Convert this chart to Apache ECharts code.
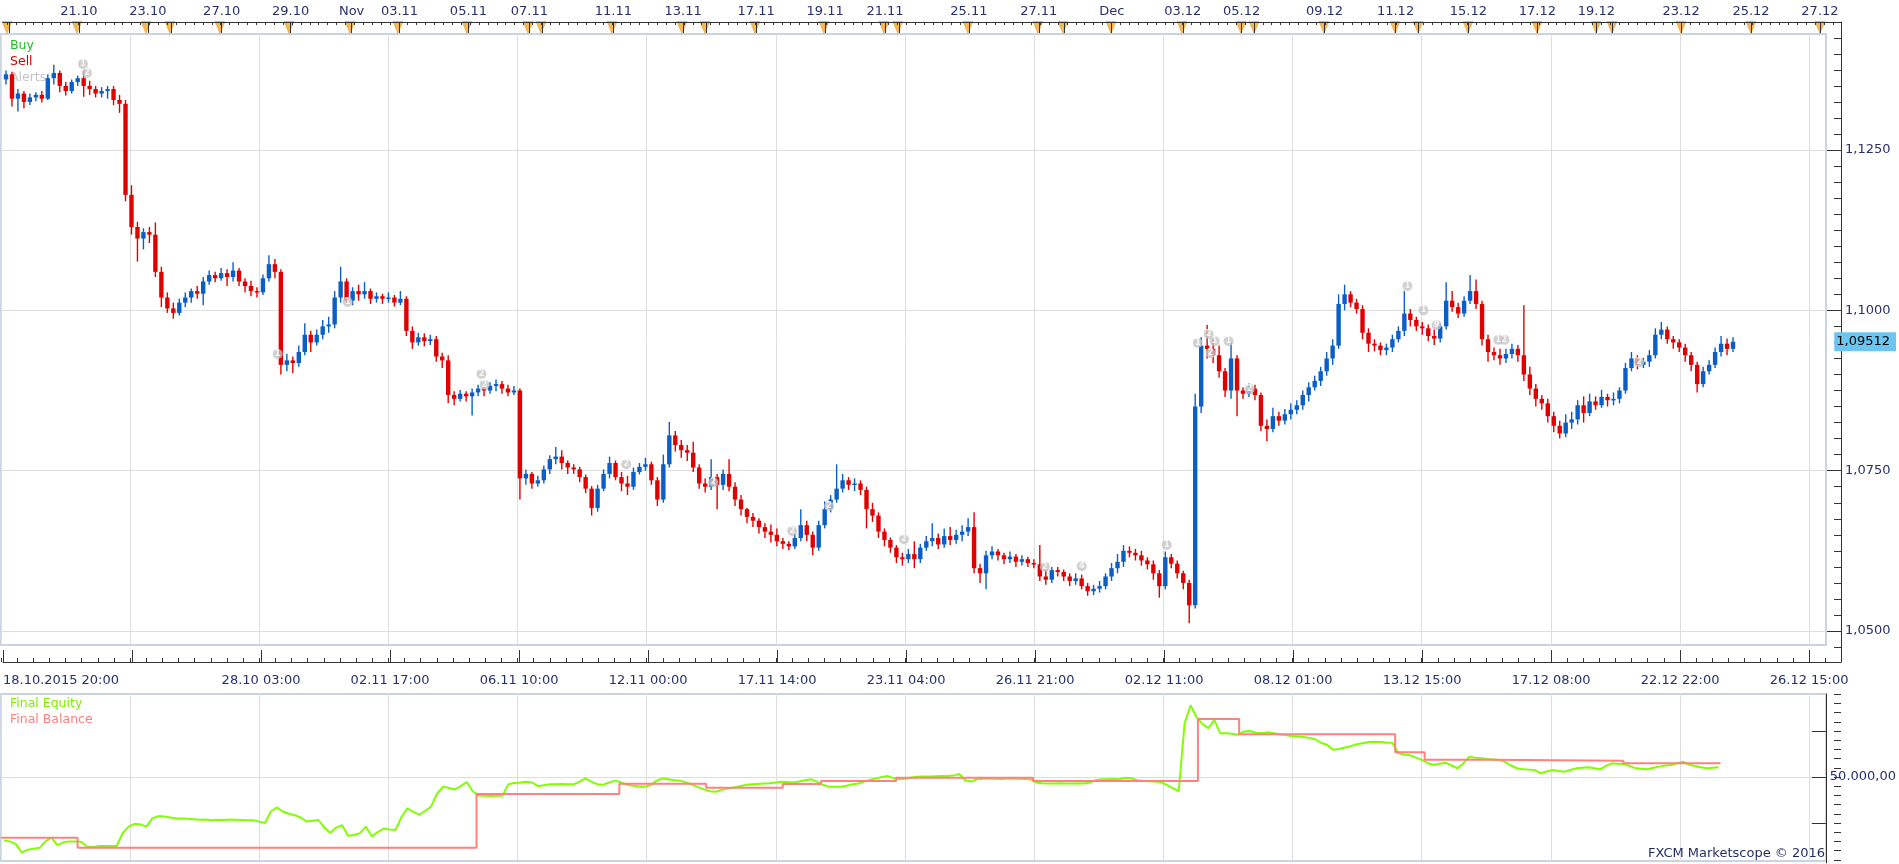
<!DOCTYPE html>
<html>
<head>
<meta charset="utf-8">
<title>Marketscope - EUR/USD backtest</title>
<script src="https://cdn.jsdelivr.net/npm/echarts@6/dist/echarts.min.js"></script>
<style>
  html, body { margin: 0; padding: 0; background: #fff; }
  #chart { width: 1899px; height: 864px; }
</style>
</head>
<body>
<div id="chart"></div>
<script>
// one candle = ~4 trading hours, x axis counts trading hours from 18.10.2015 20:00
const BAR_HOURS = 4.03

// [open, close, low, high]
const candles = [
  [1.1360,1.1368,1.1352,1.1374],[1.1368,1.1330,1.1318,1.1372],[1.1330,1.1338,1.1310,1.1345],[1.1338,1.1325,1.1315,1.1342],[1.1325,1.1332,1.1320,1.1338],
  [1.1332,1.1336,1.1326,1.1340],[1.1336,1.1330,1.1324,1.1342],[1.1330,1.1362,1.1328,1.1368],[1.1362,1.1370,1.1352,1.1383],[1.1370,1.1350,1.1340,1.1374],
  [1.1350,1.1342,1.1335,1.1356],[1.1342,1.1356,1.1338,1.1360],[1.1356,1.1362,1.1350,1.1366],[1.1362,1.1350,1.1333,1.1374],[1.1350,1.1345,1.1336,1.1358],
  [1.1345,1.1338,1.1332,1.1350],[1.1338,1.1342,1.1332,1.1348],[1.1342,1.1345,1.1330,1.1350],[1.1345,1.1328,1.1320,1.1350],[1.1328,1.1322,1.1308,1.1336],
  [1.1322,1.1180,1.1170,1.1328],[1.1180,1.1130,1.1118,1.1195],[1.1130,1.1112,1.1076,1.1138],[1.1112,1.1122,1.1095,1.1128],[1.1122,1.1118,1.1105,1.1130],
  [1.1118,1.1060,1.1052,1.1137],[1.1060,1.1020,1.1005,1.1068],[1.1020,1.1003,1.0996,1.1028],[1.1003,1.0996,1.0987,1.1012],[1.0996,1.1012,1.0992,1.1018],
  [1.1012,1.1020,1.1005,1.1028],[1.1020,1.1030,1.1012,1.1034],[1.1030,1.1026,1.1018,1.1038],[1.1026,1.1045,1.1008,1.1052],[1.1045,1.1055,1.1040,1.1062],
  [1.1055,1.1050,1.1044,1.1060],[1.1050,1.1058,1.1046,1.1066],[1.1058,1.1052,1.1038,1.1064],[1.1052,1.1062,1.1045,1.1075],[1.1062,1.1045,1.1038,1.1066],
  [1.1045,1.1038,1.1028,1.1050],[1.1038,1.1030,1.1022,1.1046],[1.1030,1.1028,1.1020,1.1036],[1.1028,1.1050,1.1024,1.1056],[1.1050,1.1072,1.1045,1.1086],
  [1.1072,1.1060,1.1050,1.1080],[1.1060,1.0915,1.0900,1.1064],[1.0915,1.0922,1.0905,1.0932],[1.0922,1.0918,1.0902,1.0928],[1.0918,1.0935,1.0912,1.0945],
  [1.0935,1.0962,1.0930,1.0980],[1.0962,1.0950,1.0935,1.0968],[1.0950,1.0962,1.0945,1.0970],[1.0962,1.0975,1.0955,1.0985],[1.0975,1.0978,1.0965,1.0990],
  [1.0978,1.1020,1.0972,1.1030],[1.1020,1.1045,1.1012,1.1068],[1.1045,1.1015,1.1010,1.1050],[1.1015,1.1030,1.1008,1.1036],[1.1030,1.1025,1.1015,1.1040],
  [1.1025,1.1030,1.1018,1.1044],[1.1030,1.1018,1.1010,1.1034],[1.1018,1.1022,1.1012,1.1028],[1.1022,1.1018,1.1010,1.1026],[1.1018,1.1020,1.1012,1.1028],
  [1.1020,1.1012,1.1006,1.1024],[1.1012,1.1018,1.1008,1.1030],[1.1018,1.0968,1.0960,1.1022],[1.0968,1.0950,1.0940,1.0975],[1.0950,1.0958,1.0945,1.0965],
  [1.0958,1.0952,1.0944,1.0964],[1.0952,1.0955,1.0946,1.0962],[1.0955,1.0928,1.0920,1.0960],[1.0928,1.0922,1.0910,1.0934],[1.0922,1.0868,1.0855,1.0930],
  [1.0868,1.0862,1.0852,1.0874],[1.0862,1.0870,1.0858,1.0876],[1.0870,1.0866,1.0858,1.0874],[1.0866,1.0872,1.0836,1.0878],[1.0872,1.0878,1.0866,1.0884],
  [1.0878,1.0875,1.0866,1.0884],[1.0875,1.0882,1.0870,1.0888],[1.0882,1.0885,1.0874,1.0892],[1.0885,1.0878,1.0870,1.0890],[1.0878,1.0872,1.0866,1.0884],
  [1.0872,1.0875,1.0868,1.0882],[1.0875,1.0738,1.0705,1.0878],[1.0738,1.0745,1.0728,1.0752],[1.0745,1.0730,1.0722,1.0748],[1.0730,1.0735,1.0725,1.0742],
  [1.0735,1.0752,1.0730,1.0758],[1.0752,1.0768,1.0745,1.0774],[1.0768,1.0772,1.0760,1.0787],[1.0772,1.0762,1.0752,1.0782],[1.0762,1.0755,1.0745,1.0766],
  [1.0755,1.0752,1.0745,1.0760],[1.0752,1.0740,1.0732,1.0756],[1.0740,1.0722,1.0715,1.0744],[1.0722,1.0692,1.0680,1.0726],[1.0692,1.0722,1.0686,1.0728],
  [1.0722,1.0745,1.0718,1.0752],[1.0745,1.0762,1.0738,1.0772],[1.0762,1.0740,1.0735,1.0766],[1.0740,1.0730,1.0718,1.0748],[1.0730,1.0725,1.0712,1.0742],
  [1.0725,1.0748,1.0720,1.0755],[1.0748,1.0756,1.0744,1.0762],[1.0756,1.0760,1.0750,1.0770],[1.0760,1.0735,1.0728,1.0764],[1.0735,1.0705,1.0695,1.0740],
  [1.0705,1.0760,1.0700,1.0775],[1.0760,1.0805,1.0755,1.0826],[1.0805,1.0790,1.0780,1.0812],[1.0790,1.0782,1.0770,1.0798],[1.0782,1.0778,1.0765,1.0790],
  [1.0778,1.0755,1.0748,1.0795],[1.0755,1.0730,1.0722,1.0760],[1.0730,1.0725,1.0716,1.0738],[1.0725,1.0740,1.0720,1.0768],[1.0740,1.0728,1.0690,1.0745],
  [1.0728,1.0745,1.0720,1.0752],[1.0745,1.0725,1.0718,1.0768],[1.0725,1.0705,1.0695,1.0732],[1.0705,1.0690,1.0680,1.0712],[1.0690,1.0678,1.0668,1.0692],
  [1.0678,1.0672,1.0662,1.0684],[1.0672,1.0662,1.0652,1.0676],[1.0662,1.0655,1.0645,1.0668],[1.0655,1.0650,1.0638,1.0666],[1.0650,1.0640,1.0632,1.0660],
  [1.0640,1.0636,1.0628,1.0645],[1.0636,1.0632,1.0626,1.0640],[1.0632,1.0645,1.0628,1.0652],[1.0645,1.0665,1.0640,1.0690],[1.0665,1.0650,1.0640,1.0672],
  [1.0650,1.0630,1.0618,1.0655],[1.0630,1.0665,1.0625,1.0672],[1.0665,1.0690,1.0660,1.0702],[1.0690,1.0705,1.0685,1.0712],[1.0705,1.0722,1.0700,1.0760],
  [1.0722,1.0735,1.0716,1.0745],[1.0735,1.0728,1.0720,1.0740],[1.0728,1.0730,1.0718,1.0738],[1.0730,1.0720,1.0712,1.0735],[1.0720,1.0690,1.0660,1.0725],
  [1.0690,1.0680,1.0670,1.0700],[1.0680,1.0655,1.0645,1.0685],[1.0655,1.0642,1.0632,1.0660],[1.0642,1.0630,1.0622,1.0646],[1.0630,1.0615,1.0606,1.0634],
  [1.0615,1.0612,1.0602,1.0622],[1.0612,1.0620,1.0606,1.0628],[1.0620,1.0612,1.0598,1.0640],[1.0612,1.0630,1.0606,1.0636],[1.0630,1.0640,1.0625,1.0648],
  [1.0640,1.0645,1.0632,1.0668],[1.0645,1.0635,1.0628,1.0652],[1.0635,1.0648,1.0630,1.0660],[1.0648,1.0642,1.0634,1.0662],[1.0642,1.0650,1.0636,1.0658],
  [1.0650,1.0655,1.0640,1.0665],[1.0655,1.0662,1.0648,1.0676],[1.0662,1.0598,1.0590,1.0685],[1.0598,1.0590,1.0575,1.0605],[1.0590,1.0618,1.0565,1.0625],
  [1.0618,1.0624,1.0612,1.0632],[1.0624,1.0618,1.0610,1.0628],[1.0618,1.0612,1.0604,1.0622],[1.0612,1.0616,1.0606,1.0624],[1.0616,1.0608,1.0600,1.0620],
  [1.0608,1.0612,1.0602,1.0618],[1.0612,1.0606,1.0600,1.0616],[1.0606,1.0604,1.0598,1.0612],[1.0604,1.0585,1.0578,1.0634],[1.0585,1.0580,1.0572,1.0596],
  [1.0580,1.0595,1.0575,1.0600],[1.0595,1.0592,1.0585,1.0600],[1.0592,1.0585,1.0578,1.0596],[1.0585,1.0578,1.0570,1.0590],[1.0578,1.0582,1.0572,1.0590],
  [1.0582,1.0570,1.0565,1.0588],[1.0570,1.0562,1.0555,1.0575],[1.0562,1.0566,1.0556,1.0572],[1.0566,1.0570,1.0560,1.0578],[1.0570,1.0585,1.0565,1.0590],
  [1.0585,1.0598,1.0578,1.0606],[1.0598,1.0608,1.0590,1.0620],[1.0608,1.0625,1.0600,1.0634],[1.0625,1.0622,1.0615,1.0632],[1.0622,1.0618,1.0610,1.0628],
  [1.0618,1.0610,1.0602,1.0625],[1.0610,1.0604,1.0596,1.0615],[1.0604,1.0590,1.0580,1.0610],[1.0590,1.0570,1.0552,1.0595],[1.0570,1.0615,1.0565,1.0624],
  [1.0615,1.0605,1.0598,1.0620],[1.0605,1.0590,1.0582,1.0610],[1.0590,1.0575,1.0565,1.0594],[1.0575,1.0540,1.0512,1.0580],[1.0540,1.0850,1.0535,1.0870],
  [1.0850,1.0945,1.0840,1.0958],[1.0945,1.0940,1.0925,1.0977],[1.0940,1.0930,1.0918,1.0955],[1.0930,1.0905,1.0895,1.0945],[1.0905,1.0875,1.0865,1.0910],
  [1.0875,1.0925,1.0862,1.0950],[1.0925,1.0875,1.0835,1.0930],[1.0875,1.0870,1.0862,1.0880],[1.0870,1.0878,1.0865,1.0886],[1.0878,1.0868,1.0860,1.0884],
  [1.0868,1.0820,1.0812,1.0872],[1.0820,1.0815,1.0796,1.0830],[1.0815,1.0835,1.0810,1.0848],[1.0835,1.0828,1.0820,1.0842],[1.0828,1.0838,1.0822,1.0846],
  [1.0838,1.0845,1.0830,1.0855],[1.0845,1.0852,1.0838,1.0860],[1.0852,1.0868,1.0845,1.0875],[1.0868,1.0880,1.0858,1.0888],[1.0880,1.0890,1.0875,1.0898],
  [1.0890,1.0905,1.0882,1.0912],[1.0905,1.0925,1.0898,1.0935],[1.0925,1.0945,1.0915,1.0955],[1.0945,1.1010,1.0940,1.1025],[1.1010,1.1025,1.1000,1.1040],
  [1.1025,1.1012,1.1005,1.1030],[1.1012,1.1002,1.0995,1.1018],[1.1002,1.0965,1.0955,1.1008],[1.0965,1.0948,1.0935,1.0972],[1.0948,1.0945,1.0936,1.0955],
  [1.0945,1.0938,1.0930,1.0950],[1.0938,1.0942,1.0930,1.0948],[1.0942,1.0955,1.0935,1.0962],[1.0955,1.0968,1.0950,1.0975],[1.0968,1.0995,1.0960,1.1030],
  [1.0995,1.0985,1.0975,1.1002],[1.0985,1.0975,1.0968,1.0990],[1.0975,1.0972,1.0962,1.0982],[1.0972,1.0960,1.0952,1.0978],[1.0960,1.0956,1.0946,1.0970],
  [1.0956,1.0975,1.0950,1.0980],[1.0975,1.1015,1.0970,1.1044],[1.1015,1.1005,1.0998,1.1030],[1.1005,1.0995,1.0988,1.1012],[1.0995,1.1015,1.0990,1.1022],
  [1.1015,1.1030,1.1010,1.1055],[1.1030,1.1010,1.1002,1.1048],[1.1010,1.0955,1.0945,1.1015],[1.0955,1.0935,1.0920,1.0962],[1.0935,1.0930,1.0922,1.0942],
  [1.0930,1.0925,1.0915,1.0940],[1.0925,1.0932,1.0918,1.0940],[1.0932,1.0940,1.0925,1.0948],[1.0940,1.0930,1.0920,1.0946],[1.0930,1.0900,1.0890,1.1008],
  [1.0900,1.0878,1.0868,1.0912],[1.0878,1.0862,1.0850,1.0885],[1.0862,1.0855,1.0845,1.0868],[1.0855,1.0835,1.0825,1.0862],[1.0835,1.0820,1.0810,1.0842],
  [1.0820,1.0808,1.0800,1.0828],[1.0808,1.0825,1.0802,1.0838],[1.0825,1.0830,1.0815,1.0842],[1.0830,1.0852,1.0822,1.0860],[1.0852,1.0840,1.0825,1.0866],
  [1.0840,1.0858,1.0835,1.0870],[1.0858,1.0852,1.0845,1.0866],[1.0852,1.0865,1.0848,1.0876],[1.0865,1.0860,1.0850,1.0870],[1.0860,1.0862,1.0852,1.0872],
  [1.0862,1.0875,1.0855,1.0880],[1.0875,1.0910,1.0870,1.0918],[1.0910,1.0925,1.0905,1.0935],[1.0925,1.0915,1.0908,1.0930],[1.0915,1.0920,1.0910,1.0926],
  [1.0920,1.0930,1.0912,1.0938],[1.0930,1.0962,1.0925,1.0972],[1.0962,1.0970,1.0955,1.0982],[1.0970,1.0955,1.0948,1.0975],[1.0955,1.0950,1.0940,1.0960],
  [1.0950,1.0942,1.0935,1.0955],[1.0942,1.0930,1.0920,1.0948],[1.0930,1.0915,1.0905,1.0935],[1.0915,1.0885,1.0872,1.0920],[1.0885,1.0905,1.0880,1.0912],
  [1.0905,1.0915,1.0900,1.0922],[1.0915,1.0935,1.0910,1.0942],[1.0935,1.0948,1.0928,1.0960],[1.0948,1.0940,1.0930,1.0956],[1.0940,1.0951,1.0935,1.0958]
]
const lastPrice = 1.09512

// final equity, one value per candle
const equity = [
  48620,48600,48540,48360,48420,48440,48460,48600,48680,48520,
  48580,48600,48600,48590,48490,48480,48500,48500,48500,48500,
  48780,48920,48980,48970,48920,49100,49150,49140,49120,49100,
  49100,49090,49080,49070,49075,49060,49070,49065,49075,49070,
  49065,49060,49060,49030,49000,49250,49340,49250,49200,49170,
  49120,49030,49050,49065,48900,48780,48900,48950,48720,48740,
  48780,48920,48710,48800,48880,48860,48850,49130,49320,49240,
  49180,49260,49360,49640,49790,49760,49730,49800,49890,49690,
  49600,49590,49585,49590,49590,49840,49870,49880,49895,49880,
  49800,49820,49840,49840,49845,49840,49840,49900,49970,49900,
  49840,49830,49880,49920,49880,49830,49810,49800,49790,49820,
  49920,49970,49950,49930,49920,49880,49830,49780,49730,49690,
  49680,49720,49750,49770,49800,49825,49840,49850,49860,49865,
  49880,49898,49890,49880,49900,49930,49950,49900,49830,49790,
  49790,49790,49810,49840,49860,49900,49940,49970,50000,50020,
  49970,49950,49960,49990,50005,50010,50010,50015,50020,50020,
  50030,50065,49930,49900,49950,49960,49965,49960,49955,49960,
  49960,49960,49955,49950,49880,49865,49860,49860,49865,49860,
  49860,49862,49860,49880,49930,49950,49950,49955,49950,49985,
  49970,49930,49915,49905,49900,49890,49830,49760,49690,51170,
  51560,51300,51150,51060,51240,50950,50950,50940,50916,50990,
  51000,50960,50950,50970,50950,50930,50910,50890,50880,50870,
  50850,50820,50740,50700,50590,50610,50640,50670,50710,50735,
  50760,50768,50760,50750,50746,50520,50490,50470,50420,50370,
  50300,50261,50290,50311,50250,50190,50300,50440,50420,50406,
  50390,50380,50370,50330,50250,50190,50170,50160,50150,50080,
  50120,50152,50130,50116,50150,50188,50200,50210,50190,50167,
  50240,50297,50290,50283,50240,50188,50180,50167,50200,50225,
  50250,50261,50300,50333,50270,50239,50210,50188,50200,50210
]

// final balance changes (trading hour, value)
const balanceHours = [0, 52, 323, 420, 479, 531, 557, 608, 701, 813, 841, 947, 967, 1012, 1102, 1168]
const balance = [48680, 48463, 49630, 49854, 49767, 49848, 49913, 49985, 49913, 51261, 50928, 50537, 50376, 50354, 50298, 50298]

// alerts on the price chart
const alertHours = [53.9, 56.6, 185.2, 232.4, 322.7, 324.7, 420.3, 479.0, 532.2, 557.1, 607.6, 702.6, 727.5, 784.8, 805.7, 813.1, 817.1, 826.5, 814.4, 840.7, 947.1, 957.9, 966.7, 1008.4, 1012.5, 1103.4]
const alertPrices = [1.1384, 1.1370, 1.0932, 1.1013, 1.0901, 1.0884, 1.0760, 1.0732, 1.0656, 1.0695, 1.0643, 1.0600, 1.0601, 1.0634, 1.0949, 1.0963, 1.0952, 1.0952, 1.0933, 1.0877, 1.1038, 1.1000, 1.0977, 1.0954, 1.0954, 1.0919]
const alertTags = ['1', '2', '1', '1', '2', '2', '2', '2', '2', '2', '2', '2', '4', '1', '1', '2', '1', '1', '2', '2', '1', '1', '9', '1', '2', '2']

// top date scale
const topLabelHours = [51.2, 97.7, 147.5, 194.0, 235.1, 267.4, 313.9, 355.0, 411.6, 458.7, 507.9, 554.4, 594.8, 651.4, 698.5, 747.7, 795.6, 835.3, 891.2, 939.1, 988.2, 1034.7, 1074.5, 1131.7, 1178.8, 1225.3]
const topLabels = ['21.10', '23.10', '27.10', '29.10', 'Nov', '03.11', '05.11', '07.11', '11.11', '13.11', '17.11', '19.11', '21.11', '25.11', '27.11', 'Dec', '03.12', '05.12', '09.12', '11.12', '15.12', '17.12', '19.12', '23.12', '25.12', '27.12']
const sessionHours = [4.0, 51.2, 97.7, 113.8, 147.5, 194.0, 235.1, 267.4, 313.9, 355.0, 363.8, 411.6, 458.7, 474.2, 507.9, 554.4, 594.8, 604.2, 651.4, 698.5, 715.4, 747.7, 795.6, 835.3, 844.1, 891.2, 939.1, 954.6, 988.2, 1034.7, 1074.5, 1085.2, 1131.7, 1178.8, 1225.3]

// bottom time scale
const bottomLabelHours = [0, 174, 261, 348, 435, 522, 609, 696, 783, 870, 957, 1044, 1131, 1218]
const bottomLabels = ['18.10.2015 20:00', '28.10 03:00', '02.11 17:00', '06.11 10:00', '12.11 00:00', '17.11 14:00', '23.11 04:00', '26.11 21:00', '02.12 11:00', '08.12 01:00', '13.12 15:00', '17.12 08:00', '22.12 22:00', '26.12 15:00']

const priceTicks = [1.05, 1.075, 1.1, 1.125]
const equityTicks = [49000, 50000, 51000]
const equityLabels = [50000]

// ---- axis ranges (fitted to the panels) ----
const X_MAX = 1239.5        // hours up to the price scale line
const PANEL_X_MAX = 1229.4  // hours up to the panel frame
const P_MIN = 1.04517, P_MAX = 1.14496
const PANEL_P_MIN = 1.04782, PANEL_P_MAX = 1.14309
const E_MIN = 48130, E_MAX = 51804
const PANEL_E_MIN = 48173

const gridHours = []
for (let h = 0; h <= PANEL_X_MAX; h += 87) gridHours.push(h)
const minorBottom = []
for (let h = 0; h <= X_MAX; h += 87 / 8) minorBottom.push(h)
const minorTop = []
for (let h = 4; h <= X_MAX; h += 6) minorTop.push(h)
const priceMinor = []
for (let k = 0; k <= 38; k++) priceMinor.push(+(1.0475 + k * 0.0025).toFixed(4))
const equityMinor = []
for (let v = 48200; v <= 51800; v += 200) equityMinor.push(v)

const NAVY = '#28306c'
const FONT = 'DejaVu Sans'
const UP = '#0a5ec6'
const DOWN = '#e00000'
const TICK = '#333'
const GRIDLINE = '#dedede'
const FRAME = '#c9d4e0'

function nearest(list, v) {
  let best = 0
  list.forEach((x, i) => { if (Math.abs(x - v) < Math.abs(list[best] - v)) best = i })
  return best
}
function fmtMoney(v) {
  const s = Math.round(v).toString().replace(/\B(?=(\d{3})+(?!\d))/g, '.')
  return s + ',00'
}

const chart = echarts.init(document.getElementById('chart'))

const candleData = candles.map((d, i) => [(i + 0.5) * BAR_HOURS, d[0], d[1], d[2], d[3]])
const equityData = equity.map((v, i) => [(i + 0.5) * BAR_HOURS, v])
const balanceData = balance.map((v, i) => [balanceHours[i], v])
const alertData = alertHours.map((h, i) => [h, alertPrices[i], alertTags[i]])
const sessionData = sessionHours.map(h => [h, 0.5])

const xLabelStyle = { color: NAVY, fontFamily: FONT, fontSize: 13 }
const yLabelStyle = { color: NAVY, fontFamily: FONT, fontSize: 13 }
const noLine = { show: false, onZero: false }
const hidden = { axisLine: noLine, axisTick: { show: false }, axisLabel: { show: false }, splitLine: { show: false } }

// price chart area and the same area again for extra tick rows
const MAIN = { left: 1, right: 58, top: 22, bottom: 202 }
const LOWER = { left: 1, right: 58, top: 694, bottom: 1 }

chart.setOption({
  animation: false,
  backgroundColor: '#fff',
  textStyle: { fontFamily: FONT },
  grid: [
    MAIN,                                                                                   // 0 price chart
    { left: 1, right: 73, top: 34, bottom: 219, show: true, borderColor: FRAME, borderWidth: 2 },  // 1 price frame
    { left: 1, right: 58, top: 22, height: 11 },                                            // 2 session markers
    LOWER,                                                                                  // 3 equity chart
    { left: 1, right: 73, top: 694, bottom: 3, show: true, borderColor: FRAME, borderWidth: 2 },   // 4 equity frame
    Object.assign({}, MAIN),                                                                // 5 minor ticks
    Object.assign({}, MAIN),                                                                // 6 last price tag
    Object.assign({}, LOWER)                                                                // 7 equity minor ticks
  ],
  xAxis: [
    { // 0
      gridIndex: 0, type: 'value', position: 'bottom', min: 0, max: X_MAX,
      axisLine: { onZero: false, lineStyle: { color: TICK } },
      axisTick: { inside: true, length: 12, customValues: gridHours, lineStyle: { color: TICK } },
      axisLabel: Object.assign({
        customValues: bottomLabelHours, margin: 12, alignMinLabel: 'left',
        formatter: v => bottomLabels[nearest(bottomLabelHours, v)]
      }, xLabelStyle),
      splitLine: { show: false }
    },
    { // 1
      gridIndex: 0, type: 'value', position: 'top', min: 0, max: X_MAX, z: 5,
      axisLine: { onZero: false, lineStyle: { color: TICK } },
      axisTick: { inside: true, length: 11, customValues: sessionHours, lineStyle: { color: TICK } },
      axisLabel: Object.assign({
        customValues: topLabelHours, margin: 4,
        formatter: v => topLabels[nearest(topLabelHours, v)]
      }, xLabelStyle),
      splitLine: { show: false }
    },
    // 2 price frame grid lines
    Object.assign({}, hidden, {
      gridIndex: 1, type: 'value', min: 0, max: PANEL_X_MAX,
      axisTick: { show: false, customValues: gridHours },
      splitLine: { show: true, lineStyle: { color: GRIDLINE } }
    }),
    // 3 session strip
    Object.assign({}, hidden, { gridIndex: 2, type: 'value', min: 0, max: X_MAX }),
    // 4 equity chart
    Object.assign({}, hidden, { gridIndex: 3, type: 'value', min: 0, max: X_MAX }),
    // 5 equity frame grid lines
    Object.assign({}, hidden, {
      gridIndex: 4, type: 'value', min: 0, max: PANEL_X_MAX,
      axisTick: { show: false, customValues: gridHours },
      splitLine: { show: true, lineStyle: { color: GRIDLINE } }
    }),
    { // 6 minor ticks bottom
      gridIndex: 5, type: 'value', position: 'bottom', min: 0, max: X_MAX,
      axisLine: noLine,
      axisTick: { inside: true, length: 4, customValues: minorBottom, lineStyle: { color: TICK } },
      axisLabel: { show: false }, splitLine: { show: false }
    },
    { // 7 minor ticks top
      gridIndex: 5, type: 'value', position: 'top', min: 0, max: X_MAX, z: 5,
      axisLine: noLine,
      axisTick: { inside: true, length: 3, customValues: minorTop, lineStyle: { color: TICK } },
      axisLabel: { show: false }, splitLine: { show: false }
    },
    // 8 last price grid
    Object.assign({}, hidden, { gridIndex: 6, type: 'value', min: 0, max: X_MAX }),
    // 9 equity minor grid
    Object.assign({}, hidden, { gridIndex: 7, type: 'value', min: 0, max: X_MAX })
  ],
  yAxis: [
    { // 0 price scale
      gridIndex: 0, type: 'value', position: 'right', min: P_MIN, max: P_MAX,
      axisLine: { show: true, onZero: false, lineStyle: { color: TICK } },
      axisTick: { show: true, inside: true, length: 14, customValues: priceTicks, lineStyle: { color: TICK } },
      axisLabel: Object.assign({
        customValues: priceTicks, margin: 4,
        formatter: v => v.toFixed(4).replace('.', ',')
      }, yLabelStyle),
      splitLine: { show: false }
    },
    // 1 price frame grid lines
    Object.assign({}, hidden, {
      gridIndex: 1, type: 'value', min: PANEL_P_MIN, max: PANEL_P_MAX,
      axisTick: { show: false, customValues: priceTicks },
      splitLine: { show: true, lineStyle: { color: GRIDLINE } }
    }),
    // 2 session strip
    Object.assign({}, hidden, { gridIndex: 2, type: 'value', min: 0, max: 1 }),
    { // 3 equity scale
      gridIndex: 3, type: 'value', position: 'right', min: E_MIN, max: E_MAX,
      axisLine: { show: true, onZero: false, lineStyle: { color: TICK } },
      axisTick: { show: true, inside: true, length: 14, customValues: equityTicks, lineStyle: { color: TICK } },
      axisLabel: Object.assign({ customValues: equityLabels, margin: 4, formatter: fmtMoney }, yLabelStyle),
      splitLine: { show: false }
    },
    // 4 equity frame grid line
    Object.assign({}, hidden, {
      gridIndex: 4, type: 'value', min: PANEL_E_MIN, max: E_MAX,
      axisTick: { show: false, customValues: equityLabels },
      splitLine: { show: true, lineStyle: { color: GRIDLINE } }
    }),
    { // 5 price minor ticks
      gridIndex: 5, type: 'value', position: 'right', min: P_MIN, max: P_MAX,
      axisLine: noLine,
      axisTick: { show: true, inside: true, length: 7, customValues: priceMinor, lineStyle: { color: TICK } },
      axisLabel: { show: false }, splitLine: { show: false }
    },
    { // 6 last price tag
      gridIndex: 6, type: 'value', position: 'right', min: P_MIN, max: P_MAX,
      axisLine: noLine, axisTick: { show: false },
      axisLabel: {
        customValues: [lastPrice], margin: 1,
        formatter: v => v.toFixed(5).replace('.', ','),
        color: '#000', fontFamily: FONT, fontSize: 13,
        backgroundColor: '#6cc5f0', padding: [3, 6, 3, 2]
      },
      splitLine: { show: false }
    },
    { // 7 equity minor ticks
      gridIndex: 7, type: 'value', position: 'right', min: E_MIN, max: E_MAX,
      axisLine: noLine,
      axisTick: { show: true, inside: true, length: 7, customValues: equityMinor, lineStyle: { color: TICK } },
      axisLabel: { show: false }, splitLine: { show: false }
    }
  ],
  graphic: [
    { type: 'text', left: 10, top: 39, z: 1, style: { text: 'Buy', fill: '#20c020', font: '12.5px "DejaVu Sans"' } },
    { type: 'text', left: 10, top: 55, z: 1, style: { text: 'Sell', fill: '#d40000', font: '12.5px "DejaVu Sans"' } },
    { type: 'text', left: 10, top: 71, z: 1, style: { text: 'Alerts', fill: '#c4c4c4', font: '12.5px "DejaVu Sans"' } },
    { type: 'text', left: 10, top: 697, z: 1, style: { text: 'Final Equity', fill: '#80f000', font: '12.5px "DejaVu Sans"' } },
    { type: 'text', left: 10, top: 713, z: 1, style: { text: 'Final Balance', fill: '#ff7f7f', font: '12.5px "DejaVu Sans"' } },
    { type: 'text', right: 74, top: 847, z: 1, style: { text: 'FXCM Marketscope © 2016', fill: '#1f2a5e', font: '13px "DejaVu Sans"' } }
  ],
  series: [
    {
      name: 'Price',
      type: 'custom',
      xAxisIndex: 0,
      yAxisIndex: 0,
      z: 3,
      data: candleData,
      renderItem: function(params, api) {
        const x = api.value(0)
        const o = api.value(1)
        const c = api.value(2)
        const hi = api.coord([x, api.value(4)])
        const lo = api.coord([x, api.value(3)])
        const top = api.coord([x, Math.max(o, c)])
        const bot = api.coord([x, Math.min(o, c)])
        const color = c >= o ? UP : DOWN
        const w = 4.4
        return {
          type: 'group',
          children: [
            { type: 'line', shape: { x1: hi[0], y1: hi[1], x2: lo[0], y2: lo[1] }, style: { stroke: color, lineWidth: 1.4 } },
            { type: 'rect', shape: { x: top[0] - w / 2, y: top[1], width: w, height: Math.max(1.5, bot[1] - top[1]) }, style: { fill: color } }
          ]
        }
      }
    },
    {
      name: 'Alerts',
      type: 'scatter',
      xAxisIndex: 0,
      yAxisIndex: 0,
      z: 4,
      symbol: 'circle',
      symbolSize: 10,
      itemStyle: { color: '#c6c6c6' },
      label: { show: true, position: 'inside', formatter: p => p.value[2], color: '#fff', fontSize: 8, fontWeight: 'bold' },
      data: alertData
    },
    {
      name: 'Sessions',
      type: 'scatter',
      xAxisIndex: 3,
      yAxisIndex: 2,
      z: 1,
      symbol: 'triangle',
      symbolRotate: 180,
      symbolSize: [10, 12],
      itemStyle: { color: '#f6a524', borderColor: '#d88a10', borderWidth: 0.5 },
      data: sessionData
    },
    {
      name: 'Final Equity',
      type: 'line',
      xAxisIndex: 4,
      yAxisIndex: 3,
      symbol: 'none',
      lineStyle: { color: '#80ff00', width: 2 },
      data: equityData
    },
    {
      name: 'Final Balance',
      type: 'line',
      xAxisIndex: 4,
      yAxisIndex: 3,
      step: 'end',
      symbol: 'none',
      lineStyle: { color: '#ff8080', width: 2 },
      data: balanceData
    }
  ]
})
</script>
</body>
</html>
